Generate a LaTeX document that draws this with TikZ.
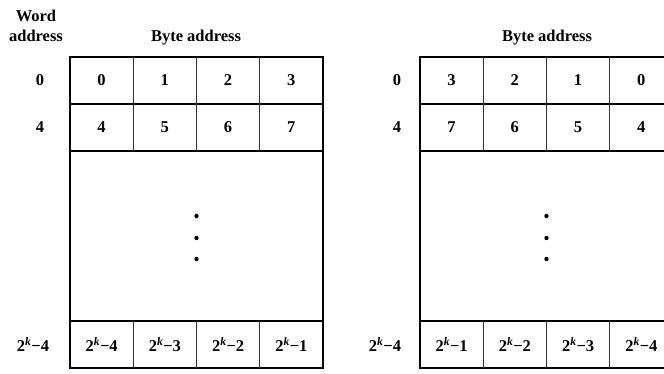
\documentclass[tikz,border=0pt]{standalone}
\usepackage{fontspec}
\setmainfont{Liberation Serif}
\usepackage{tikz}

\tikzset{
  lbl/.style={font=\fontsize{16.5}{20}\selectfont\bfseries, inner sep=0pt},
  frame/.style={line width=1.6pt},
  divider/.style={line width=0.7pt, black!80},
}
\newcommand{\pk}[1]{2\textsuperscript{\itshape k}−#1}

\begin{document}
\begin{tikzpicture}[x=1pt,y=-1pt]
\clip (0,0) rectangle (664,374);

\node[lbl, align=center] (word) at (36,26) {Word\\address};
\node[lbl] (byteL) at (196,38) {Byte address};
\node[lbl] (byteR) at (547,38) {Byte address};

% the two memory tables
\foreach \x in {70,420} {
  \draw[frame] (\x,57) rectangle (\x+253,368);
  \draw[frame] (\x,104) -- (\x+253,104);
  \draw[frame] (\x,151) -- (\x+253,151);
  \draw[frame] (\x,321) -- (\x+253,321);
  \foreach \i in {1,2,3} {
    \draw[divider] (\x+63.25*\i,57) -- (\x+63.25*\i,151);
    \draw[divider] (\x+63.25*\i,321) -- (\x+63.25*\i,368);
  }
  \foreach \y in {216,238,259}
    \fill (\x+126.5,\y) circle (2.2pt);
}

% word addresses
\node[lbl] (wL0) at (40,80.5) {0};
\node[lbl] (wL1) at (40,127.5) {4};
\node[lbl] (wL2) at (33,344.5) {\pk{4}};
\node[lbl] (wR0) at (397,80.5) {0};
\node[lbl] (wR1) at (397,127.5) {4};
\node[lbl] (wR2) at (385,344.5) {\pk{4}};

% byte addresses, left
\foreach \t [count=\i from 0] in {0,1,2,3}
  \node[lbl] (L0\i) at (101.6+63.25*\i,80.5) {\t};
\foreach \t [count=\i from 0] in {4,5,6,7}
  \node[lbl] (L1\i) at (101.6+63.25*\i,127.5) {\t};
\foreach \t [count=\i from 0] in {4,3,2,1}
  \node[lbl] (L2\i) at (101.6+63.25*\i,344.5) {\pk{\t}};

% byte addresses, right
\foreach \t [count=\i from 0] in {3,2,1,0}
  \node[lbl] (R0\i) at (451.6+63.25*\i,80.5) {\t};
\foreach \t [count=\i from 0] in {7,6,5,4}
  \node[lbl] (R1\i) at (451.6+63.25*\i,127.5) {\t};
\foreach \t [count=\i from 0] in {1,2,3,4}
  \node[lbl] (R2\i) at (451.6+63.25*\i,344.5) {\pk{\t}};
\end{tikzpicture}
\end{document}
